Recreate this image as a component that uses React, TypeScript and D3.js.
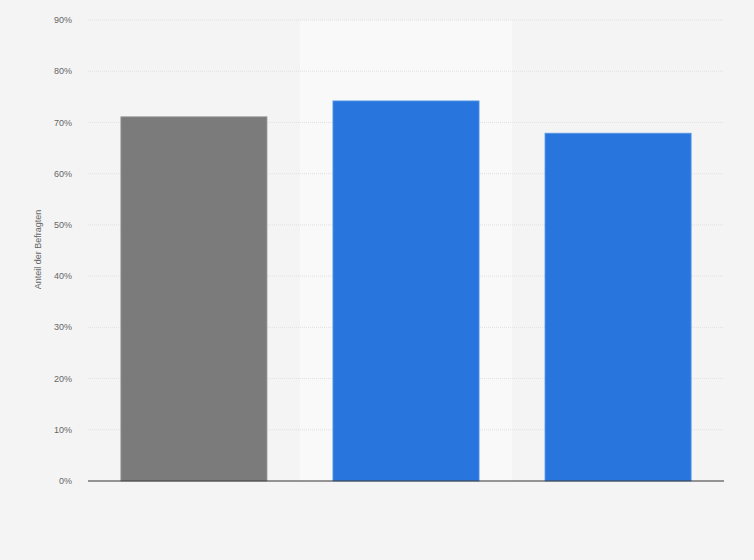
import React from 'react'
import * as d3 from 'd3'

const categories = ['A', 'B', 'C']
const values = [71.1, 74.2, 67.9]
const barColors = ['#7b7b7b', '#2876dd', '#2876dd']
const yTicks = [0, 10, 20, 30, 40, 50, 60, 70, 80, 90]
const highlighted = 'B'

const App = () => {
    const width = 754,
        height = 560
    const margin = { top: 20, right: 30, bottom: 79, left: 88 }
    const innerW = width - margin.left - margin.right
    const innerH = height - margin.top - margin.bottom

    const x = d3.scaleBand().domain(categories).range([0, innerW]).paddingInner(0.311).paddingOuter(0.155)
    const band = d3.scaleBand().domain(categories).range([0, innerW])
    const y = d3.scaleLinear().domain([0, 90]).range([innerH, 0])

    return (
        <svg width={width} height={height} style={{ display: 'block', position: 'absolute', left: 0, top: 0 }}>
            <rect width={width} height={height} fill="#f4f4f4" />
            <g transform={`translate(${margin.left},${margin.top})`}>
                <rect x={band(highlighted)} y={0} width={band.bandwidth()} height={innerH} fill="#f9f9f9" />
                {yTicks.map(t => (
                    <g key={t}>
                        {t > 0 && (
                            <line x1={0} x2={innerW} y1={y(t)} y2={y(t)} stroke="#e0e0e0" strokeWidth={1} strokeDasharray="1,1" />
                        )}
                        <text x={-16} y={y(t)} dy="0.35em" textAnchor="end" fontFamily="Arial, 'Liberation Sans', sans-serif" fontSize={9} fill="#666">
                            {t}%
                        </text>
                    </g>
                ))}
                {categories.map((c, i) => (
                    <rect
                        key={c}
                        x={x(c)}
                        y={y(values[i])}
                        width={x.bandwidth()}
                        height={innerH - y(values[i])}
                        fill={barColors[i]}
                        stroke={i === 0 ? '#9a9a9a' : '#5a9ae8'}
                        strokeWidth={0.8}
                    />
                ))}
                <line x1={0} x2={innerW} y1={innerH} y2={innerH} stroke="#333" strokeWidth={1.2} />
                <text
                    transform={`translate(${-47},${innerH / 2 - 1}) rotate(-90)`}
                    textAnchor="middle"
                    fontFamily="Arial, 'Liberation Sans', sans-serif"
                    fontSize={9}
                    fill="#666"
                >
                    Anteil der Befragten
                </text>
            </g>
        </svg>
    )
}

export default App
